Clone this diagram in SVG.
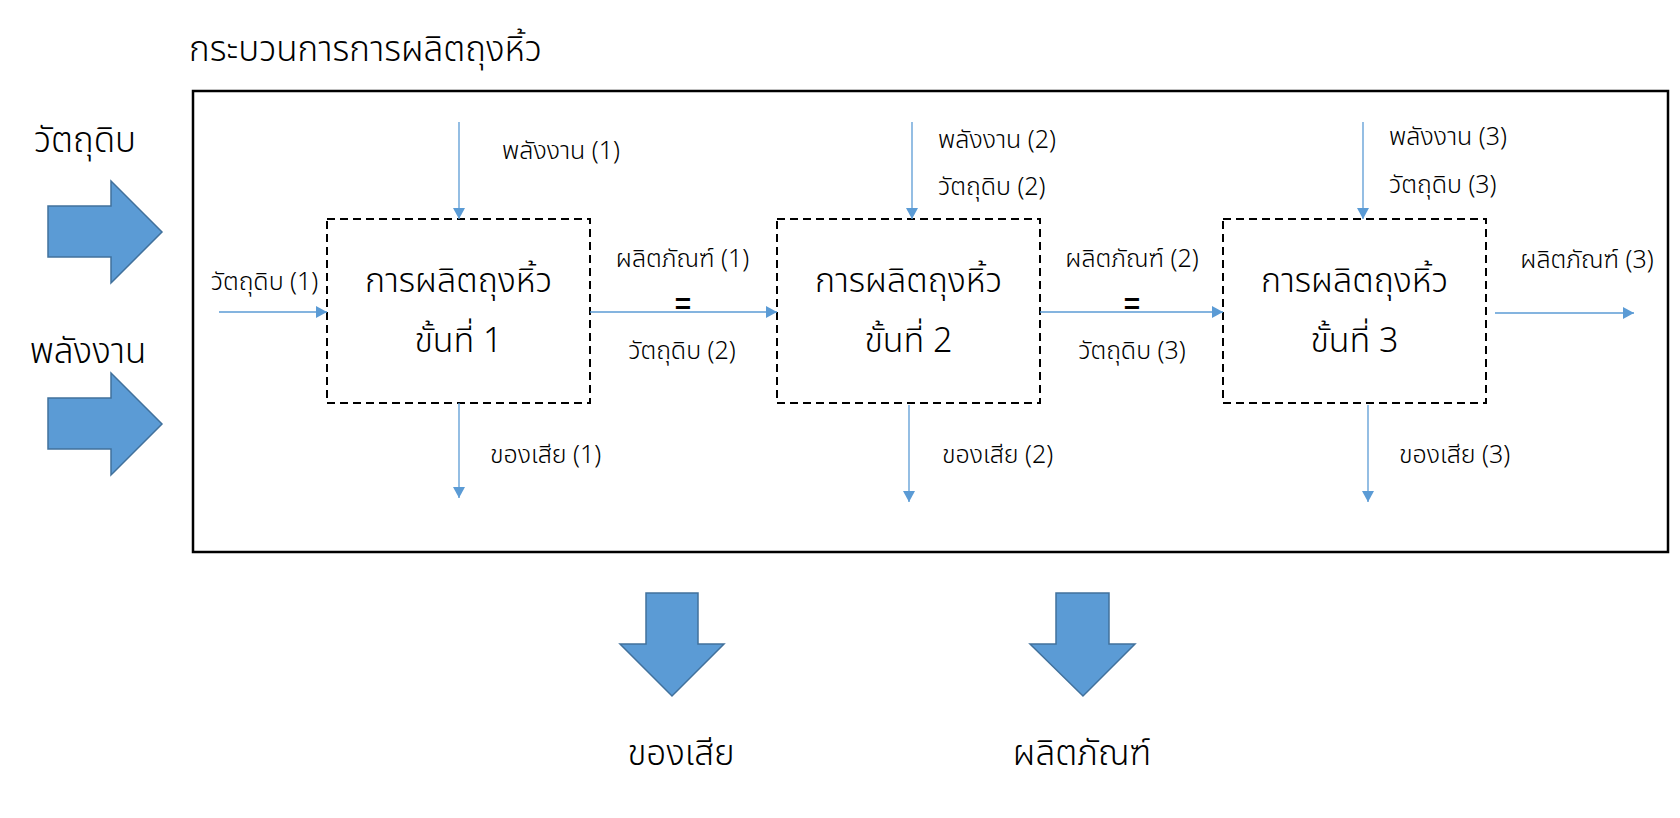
<svg xmlns="http://www.w3.org/2000/svg" width="1680" height="818" viewBox="0 0 1680 818">
<style>
text { font-family: "Noto Sans Thai", "Garuda", "Loma", "Liberation Sans", sans-serif; fill: #000; font-weight: 300; }
.lbl { font-size: 25px; }
.box-t { font-size: 34px; text-anchor: middle; }
.big { font-size: 35px; }
.eq { font-size: 28px; font-weight: bold; text-anchor: middle; font-family: "Liberation Sans", sans-serif; }
.mid { text-anchor: middle; }
.proc { fill: #fff; stroke: #000; stroke-width: 2; stroke-dasharray: 8 5; }
.conn { stroke: #5B9BD5; stroke-width: 1.3; fill: none; marker-end: url(#ah); }
.blk { fill: #5B9BD5; stroke: #41719C; stroke-width: 1.5; }
</style>
<defs>
<marker id="ah" markerUnits="userSpaceOnUse" markerWidth="12" markerHeight="12" viewBox="0 0 12 12" refX="11" refY="6" orient="auto">
<path d="M0,0 L11,6 L0,12 Z" fill="#5B9BD5"/>
</marker>
</defs>
<rect width="1680" height="818" fill="#fff"/>

<text id="title" x="189" y="61" style="font-size:35px">กระบวนการการผลิตถุงหิ้ว</text>

<g id="frame"><rect x="193" y="91" width="1475" height="461" fill="none" stroke="#000" stroke-width="2.5"/></g>

<g id="in-material">
<text class="big mid" x="85" y="152">วัตถุดิบ</text>
<path class="blk" d="M48,206 L111,206 L111,181 L162,232 L111,283 L111,257 L48,257 Z"/>
</g>
<g id="in-energy">
<text class="big mid" x="88" y="363">พลังงาน</text>
<path class="blk" d="M48,398 L111,398 L111,373 L162,424 L111,475 L111,449 L48,449 Z"/>
</g>

<g id="out-waste">
<path class="blk" d="M646,593 L698,593 L698,644 L724,644 L672,696 L620,644 L646,644 Z"/>
<text class="big mid" x="681" y="765">ของเสีย</text>
</g>
<g id="out-product">
<path class="blk" d="M1056,593 L1109,593 L1109,644 L1135,644 L1083,696 L1030,644 L1056,644 Z"/>
<text class="big mid" x="1082" y="765">ผลิตภัณฑ์</text>
</g>

<g id="step1">
<rect class="proc" x="327" y="219" width="263" height="184"/>
<text class="box-t" x="458.5" y="292">การผลิตถุงหิ้ว</text>
<text class="box-t" x="458.5" y="352">ขั้นที่ 1</text>
</g>
<g id="step2">
<rect class="proc" x="777" y="219" width="263" height="184"/>
<text class="box-t" x="908.5" y="292">การผลิตถุงหิ้ว</text>
<text class="box-t" x="908.5" y="352">ขั้นที่ 2</text>
</g>
<g id="step3">
<rect class="proc" x="1223" y="219" width="263" height="184"/>
<text class="box-t" x="1354.5" y="292">การผลิตถุงหิ้ว</text>
<text class="box-t" x="1354.5" y="352">ขั้นที่ 3</text>
</g>

<g id="connectors">
<line class="conn" x1="219" y1="312" x2="327" y2="312"/>
<line class="conn" x1="459" y1="122" x2="459" y2="219"/>
<line class="conn" x1="459" y1="403" x2="459" y2="498"/>
<line class="conn" x1="590" y1="312" x2="777" y2="312"/>
<line class="conn" x1="912" y1="122" x2="912" y2="219"/>
<line class="conn" x1="909" y1="405" x2="909" y2="502"/>
<line class="conn" x1="1040" y1="312" x2="1223" y2="312"/>
<line class="conn" x1="1363" y1="122" x2="1363" y2="219"/>
<line class="conn" x1="1368" y1="405" x2="1368" y2="502"/>
<line class="conn" x1="1495" y1="313" x2="1634" y2="313"/>
</g>

<g id="labels">
<text class="lbl mid" x="264.5" y="290">วัตถุดิบ (1)</text>
<text class="lbl" x="502" y="159">พลังงาน (1)</text>
<text class="lbl" x="490" y="463">ของเสีย (1)</text>
<text class="lbl mid" x="682.5" y="267">ผลิตภัณฑ์ (1)</text>
<text class="eq" x="683" y="313">=</text>
<text class="lbl mid" x="682" y="359">วัตถุดิบ (2)</text>
<text class="lbl" x="938" y="148">พลังงาน (2)</text>
<text class="lbl" x="938" y="195">วัตถุดิบ (2)</text>
<text class="lbl" x="942" y="463">ของเสีย (2)</text>
<text class="lbl mid" x="1132" y="267">ผลิตภัณฑ์ (2)</text>
<text class="eq" x="1132" y="313">=</text>
<text class="lbl mid" x="1132" y="359">วัตถุดิบ (3)</text>
<text class="lbl" x="1389" y="145">พลังงาน (3)</text>
<text class="lbl" x="1389" y="193">วัตถุดิบ (3)</text>
<text class="lbl" x="1399" y="463">ของเสีย (3)</text>
<text class="lbl mid" x="1587" y="268">ผลิตภัณฑ์ (3)</text>
</g>
</svg>
